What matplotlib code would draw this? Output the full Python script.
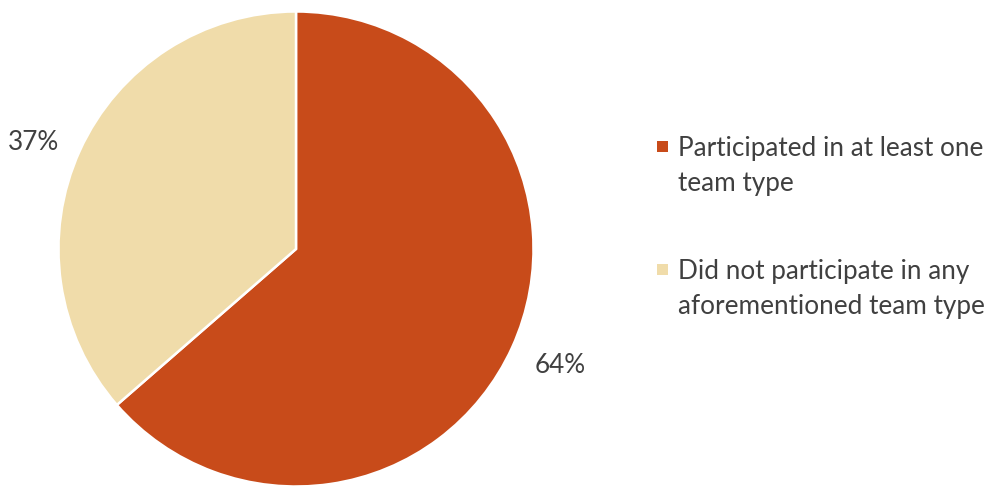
import matplotlib.pyplot as plt
from matplotlib.patches import Rectangle

# data
categories = ['Participated in at least one\nteam type',
              'Did not participate in any\naforementioned team type']
shares = [63.6, 36.4]
pct_labels = ['64%', '37%']
colors = ['#C84B1A', '#F0DCAA']

plt.rcParams['font.family'] = ['Lato', 'DejaVu Sans']
txt_color = '#404040'
fs = 18.8

fig = plt.figure(figsize=(9.99, 4.87), dpi=100)
W, H = 999, 487
ax = fig.add_axes([58.5 / W, 0.5 / H, 475 / W, 475 / H])

wedges, texts = ax.pie(shares, labels=pct_labels, colors=colors, startangle=90,
                       counterclock=False, labeldistance=1.2, radius=1,
                       wedgeprops=dict(edgecolor='white', linewidth=1.8),
                       textprops=dict(fontsize=fs, color=txt_color))
# label spots (data units)
label_pos = [(1.112, -0.492), (-1.107, 0.448)]
for t, p in zip(texts, label_pos):
    t.set_position(p)
    t.set_ha('center')
    t.set_va('center')
ax.set_xlim(-1, 1)
ax.set_ylim(-1, 1)
ax.set_aspect('equal')
ax.axis('off')

# legend drawn by hand so the swatch sits on the first line
rows_y = [147, 270]
for c, lab, y in zip(colors, categories, rows_y):
    fig.add_artist(Rectangle((657 / W, 1 - (y + 5) / H), 11 / W, 11 / H,
                             transform=fig.transFigure, facecolor=c, edgecolor='none'))
    fig.text(678 / W, 1 - (y - 11) / H, lab, fontsize=fs, color=txt_color,
             ha='left', va='top', linespacing=1.5)

fig.savefig('out.png', dpi=100)
